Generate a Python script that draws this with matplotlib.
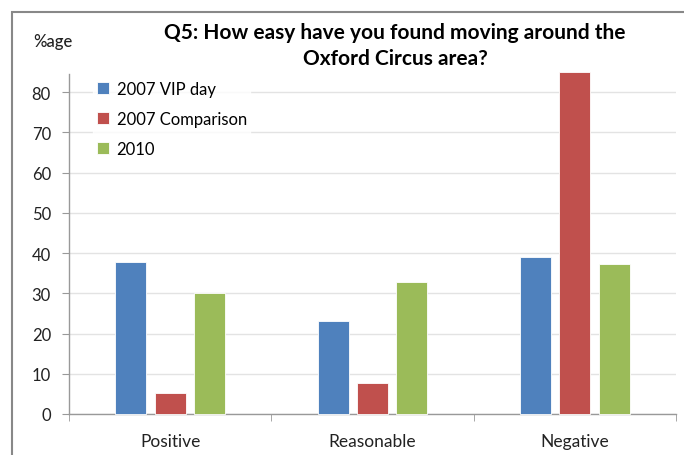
import numpy as np
import matplotlib.pyplot as plt
from matplotlib.patches import Rectangle

plt.rcParams['font.family'] = ['Lato', 'DejaVu Sans']

categories = ['Positive', 'Reasonable', 'Negative']
series = ['2007 VIP day', '2007 Comparison', '2010']
vip_2007 = [37.8, 23.2, 39.1]
comparison_2007 = [5.2, 7.7, 85.0]
y2010 = [30.0, 32.8, 37.2]
colors = ['#4F81BD', '#C0504D', '#9BBB59']

fig = plt.figure(figsize=(6.84, 4.56), dpi=100)
ax = fig.add_axes([69/684, 1 - 415/456, 607/684, 340/456])

x = np.arange(len(categories))
w = 0.153
step = 0.195
for k, (vals, c, lab) in enumerate(zip([vip_2007, comparison_2007, y2010], colors, series)):
    ax.bar(x + (k - 1) * step, vals, w, color=c, label=lab,
           edgecolor='white', linewidth=0.6, zorder=3, clip_on=False)

ax.set_xlim(-0.5, 2.5)
ax.set_ylim(0, 84.5)
ax.set_yticks(range(0, 81, 10))
ax.set_xticks(x)
ax.set_xticklabels(categories)
ax.set_xticks([-0.5, 0.5, 1.5, 2.5], minor=True)
ax.tick_params(axis='x', which='major', length=0, pad=14, labelsize=12.5, colors='#222222')
ax.tick_params(axis='x', which='minor', length=5, color='#999999', direction='out')
ax.tick_params(axis='y', length=5, labelsize=12, pad=8, colors='#999999', labelcolor='#222222')

ax.yaxis.grid(True, color='#e3e3e3', linewidth=1, zorder=0)
for s in ['top', 'right']:
    ax.spines[s].set_visible(False)
for s in ['left', 'bottom']:
    ax.spines[s].set_color('#999999')
    ax.spines[s].set_linewidth(1)

leg = ax.legend(loc='upper left', bbox_to_anchor=(85/684, 1 - 70/456),
                bbox_transform=fig.transFigure, frameon=True, fontsize=12,
                handlelength=0.75, handleheight=0.75, handletextpad=0.45,
                labelspacing=0.85, borderpad=0.2, fancybox=False)
leg.get_frame().set_edgecolor('white')
leg.get_frame().set_facecolor('white')
leg.set_zorder(5)

fig.text(395/684, 1 - 46/456, 'Q5: How easy have you found moving around the\nOxford Circus area?',
         ha='center', va='center', fontsize=15, fontweight='bold', linespacing=1.4)
fig.text(53/684, 1 - 42/456, '%age', ha='center', va='center', fontsize=12,
         color='#222222', fontweight='medium')

fig.patches.append(Rectangle((12/684, -0.1), 1.2, 1 - 13/456 + 0.1, transform=fig.transFigure,
                             fill=False, edgecolor='#888888', linewidth=1.5))

fig.savefig('out.png', dpi=100)
